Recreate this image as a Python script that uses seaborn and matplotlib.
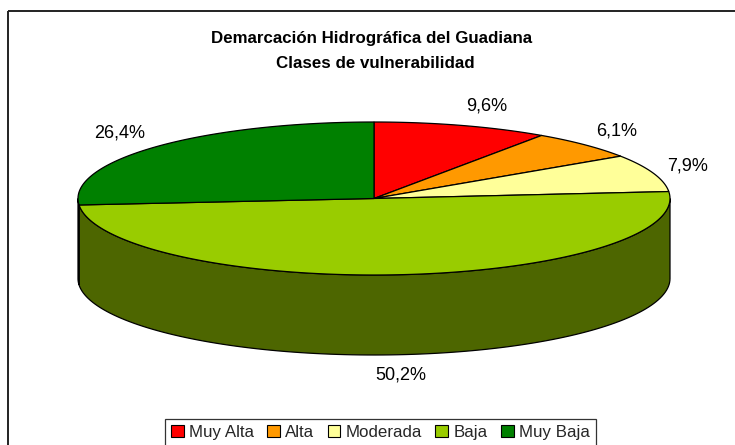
import numpy as np
import matplotlib
matplotlib.use("Agg")
import matplotlib.pyplot as plt
from matplotlib.patches import Polygon, Rectangle, Patch
import seaborn as sns

# Vulnerability classes and their share of the basin area (%)
categories = ["Muy Alta", "Alta", "Moderada", "Baja", "Muy Baja"]
shares = [9.6, 6.1, 7.9, 50.2, 26.4]
share_labels = ["9,6%", "6,1%", "7,9%", "50,2%", "26,4%"]
hex_colors = ["#FF0000", "#FF9900", "#FFFF99", "#99CC00", "#008000"]
title_lines = ["Demarcación Hidrográfica del Guadiana", "Clases de vulnerabilidad"]

sns.set_theme(style="white")
plt.rcParams["font.family"] = ["Liberation Sans", "DejaVu Sans"]

palette = sns.color_palette(hex_colors)
side_palette = [tuple(c * 0.5 for c in col) for col in palette]

W, H = 735, 445
fig = plt.figure(figsize=(W / 100, H / 100), dpi=100)
ax = fig.add_axes([0, 0, 1, 1])
ax.set_xlim(0, W)
ax.set_ylim(H, 0)
ax.axis("off")

# ellipse geometry of the pie disc (pixel units)
cx, cy = 374, 198.5
ra, rb = 296, 76.5
depth = 80


def top_pt(theta_deg, dz=0.0):
    t = np.radians(theta_deg)
    return cx + ra * np.cos(t), cy - rb * np.sin(t) + dz


# wedge angles: start at 12 o'clock, run clockwise
vals = np.asarray(shares, dtype=float)
fracs = vals / vals.sum()
starts = 90 - 360 * np.concatenate([[0], np.cumsum(fracs)[:-1]])
ends = starts - 360 * fracs

# front side wall (only the lower half of the rim is visible)
for lo, hi, col in zip(ends, starts, side_palette):
    for shift in (-360, 0, 360):
        a0 = max(lo + shift, -180)
        a1 = min(hi + shift, 0)
        if a1 <= a0:
            continue
        th = np.linspace(a0, a1, 120)
        upper = [top_pt(t) for t in th]
        lower = [top_pt(t, depth) for t in th[::-1]]
        ax.add_patch(Polygon(upper + lower, closed=True, facecolor=col,
                             edgecolor="black", linewidth=0.9, zorder=2))

# top face wedges
for lo, hi, col in zip(ends, starts, palette):
    th = np.linspace(hi, lo, 200)
    pts = [(cx, cy)] + [top_pt(t) for t in th]
    ax.add_patch(Polygon(pts, closed=True, facecolor=col,
                         edgecolor="black", linewidth=0.9, zorder=3))

# percentage labels just outside the rim at each wedge's mid-angle
for lo, hi, lab in zip(ends, starts, share_labels):
    mid = (lo + hi) / 2
    c, s = np.cos(np.radians(mid)), np.sin(np.radians(mid))
    dz = depth if s < 0 else 0
    x, y = top_pt(mid, dz)
    x += 15 * c
    y -= 20 * s
    ha = "left" if c > 0.2 else ("right" if c < -0.2 else "center")
    ax.text(x, y, lab, ha=ha, va="center", fontsize=13, color="black", zorder=5)

# title
ax.text(372, 39, title_lines[0], ha="center", va="center",
        fontsize=12.2, fontweight="bold", color="black")
ax.text(375, 63, title_lines[1], ha="center", va="center",
        fontsize=12.2, fontweight="bold", color="black")

# chart area border
ax.add_patch(Rectangle((8, 11), W, H, fill=False, edgecolor="#222222",
                       linewidth=1.4, zorder=1))

# legend
handles = [Patch(facecolor=c, edgecolor="black", linewidth=0.8) for c in palette]
leg = fig.legend(handles, categories, ncol=5, loc="upper left",
                 bbox_to_anchor=(165 / W, 1 - 419 / H), fontsize=12.2,
                 frameon=True, fancybox=False, edgecolor="black",
                 handlelength=0.75, handleheight=0.75, handletextpad=0.3,
                 columnspacing=0.8, borderpad=0.35, borderaxespad=0)
leg.get_frame().set_linewidth(0.9)

fig.savefig("out.png", dpi=100, facecolor="white")
